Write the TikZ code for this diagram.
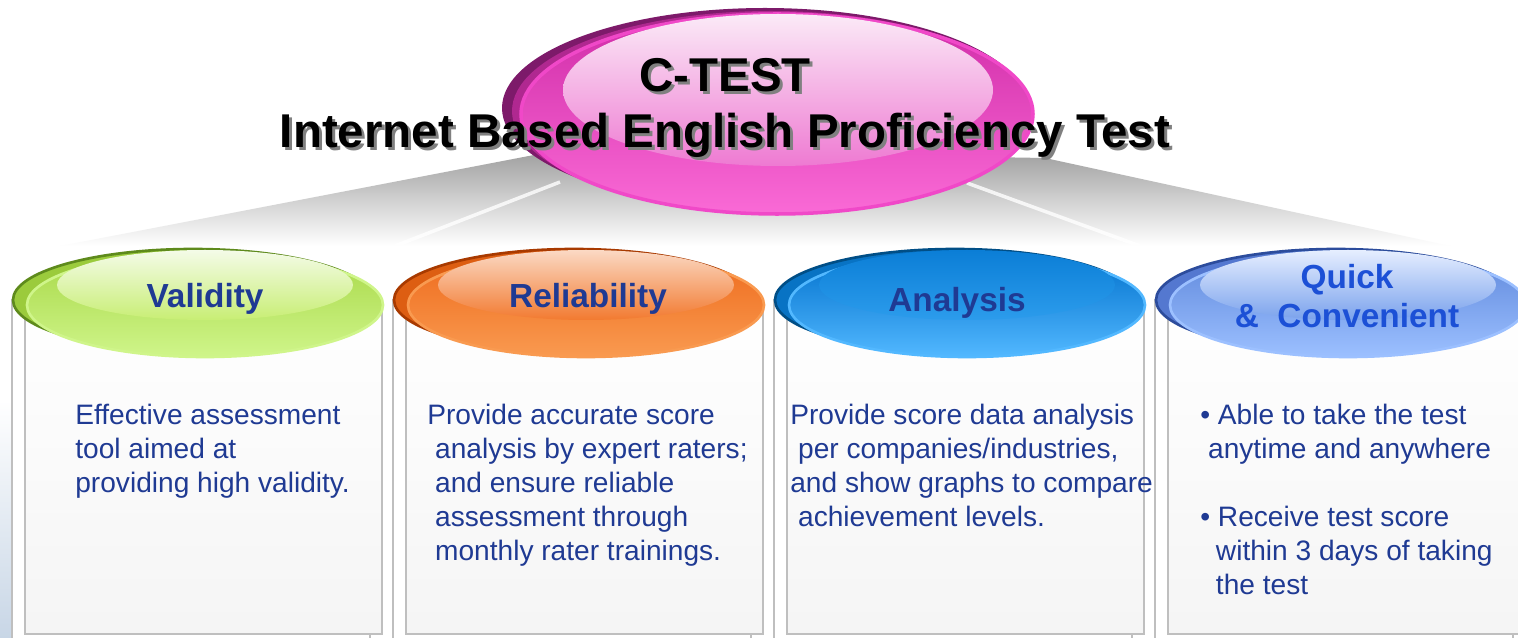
\documentclass[tikz,border=0pt]{standalone}
\usepackage{fontspec}
\setmainfont{Liberation Sans}
\usepackage{tikz}
\usetikzlibrary{calc}
\definecolor{txtblue}{RGB}{31,58,147}
\definecolor{qcblue}{RGB}{28,80,214}
\definecolor{leftblue}{RGB}{200,214,230}
\definecolor{pkEdge}{RGB}{125,26,106}
\definecolor{pkBack}{RGB}{176,40,144}
\definecolor{pkRim}{RGB}{240,72,200}
\definecolor{pkTop}{RGB}{208,44,168}
\definecolor{pkBot}{RGB}{250,106,214}
\definecolor{pkHiT}{RGB}{251,234,247}
\definecolor{pkHiB}{RGB}{238,122,210}
\definecolor{gnEdge}{RGB}{94,138,28}
\definecolor{gnBack}{RGB}{155,203,60}
\definecolor{gnTop}{RGB}{168,216,72}
\definecolor{gnBot}{RGB}{207,245,138}
\definecolor{gnHiT}{RGB}{244,251,232}
\definecolor{gnHiB}{RGB}{200,238,116}
\definecolor{orEdge}{RGB}{168,58,0}
\definecolor{orBack}{RGB}{221,94,18}
\definecolor{orTop}{RGB}{238,106,28}
\definecolor{orBot}{RGB}{249,154,80}
\definecolor{orHiT}{RGB}{251,217,196}
\definecolor{orHiB}{RGB}{242,122,48}
\definecolor{blEdge}{RGB}{0,78,134}
\definecolor{blBack}{RGB}{8,115,196}
\definecolor{blTop}{RGB}{0,112,204}
\definecolor{blBot}{RGB}{82,184,255}
\definecolor{blHiT}{RGB}{11,126,214}
\definecolor{blHiB}{RGB}{44,156,236}
\definecolor{pwEdge}{RGB}{44,76,156}
\definecolor{pwBack}{RGB}{84,120,208}
\definecolor{pwTop}{RGB}{95,136,220}
\definecolor{pwBot}{RGB}{156,192,255}
\definecolor{pwHiT}{RGB}{230,238,255}
\definecolor{pwHiB}{RGB}{122,162,236}

\begin{document}
\begin{tikzpicture}[x=0.02cm,y=-0.02cm,
		colrect/.style={draw=black!25,line width=1.6pt},
		bodytext/.style={anchor=north west,inner sep=0pt,align=left,text=txtblue,font=\fontsize{16}{19.35}\selectfont},
		headtext/.style={inner sep=0pt,text=txtblue,font=\bfseries\fontsize{19}{22.2}\selectfont},
		titletext/.style={anchor=north,inner sep=0pt,align=center,font=\bfseries\fontsize{27}{31.9}\selectfont}]
				\def\colw{381};
				\clip (0,0) rectangle (1518,638);
				\fill[white] (0,0) rectangle (1518,638);
				\shade[top color=white,bottom color=leftblue] (0,400) rectangle (14,638);
				\shade[top color=black!38,bottom color=white] (560,150) -- (1045,158) -- (1450,246) -- (60,246) -- cycle;
				\draw[white,line width=2pt,opacity=.8] (560,182) -- (395,246) (967,183) -- (1140,246);
				\foreach \i/\edgec/\backc/\topc/\botc/\hitc/\hibc in {0/gnEdge/gnBack/gnTop/gnBot/gnHiT/gnHiB,
						1/orEdge/orBack/orTop/orBot/orHiT/orHiB,
						2/blEdge/blBack/blTop/blBot/blHiT/blHiB,
						3/pwEdge/pwBack/pwTop/pwBot/pwHiT/pwHiB}{
					\pgfmathsetmacro\L{25+\colw*\i}
					\draw[colrect,fill=white] (\L-13,300) rectangle (\L+345,660);
					\draw[colrect,top color=white,bottom color=black!4] (\L,300) rectangle (\L+357,634);
					\draw[\edgec,line width=1.5pt,fill=\backc] (\L+168,300) ellipse [x radius=180,y radius=51];
					\draw[\botc,line width=1.5pt,top color=\topc,bottom color=\botc] (\L+180,305) ellipse [x radius=178,y radius=52];
					\shade[top color=\hitc,bottom color=\hibc] (\L+180,285) ellipse [x radius=148,y radius=35];
				}
				\fill[pkEdge] (765,108) ellipse [x radius=263,y radius=100];
				\fill[pkBack] (771,111) ellipse [x radius=259,y radius=100];
				\draw[pkRim,line width=2pt,top color=pkTop,bottom color=pkBot] (777,114) ellipse [x radius=256,y radius=100];
				\shade[top color=pkHiT,bottom color=pkHiB] (778,90) ellipse [x radius=215,y radius=76];
				\node[titletext,text=black!50] (titleshadow) at (728,61) {C-TEST\\Internet Based English Proficiency Test};
				\node[titletext] (title) at (725,58) {C-TEST\\Internet Based English Proficiency Test};
				\node[headtext,anchor=base] (validity) at (205,308) {Validity};
				\node[headtext,anchor=base] (reliability) at (588,308) {Reliability};
				\node[headtext,anchor=base] (analysis) at (957,312) {Analysis};
				\node[headtext,anchor=north,align=center,text=qcblue] (quick) at (1347,264) {Quick\\\&~~Convenient};
				\node[bodytext] (validitytxt) at (75,403.5) {Effective assessment\\tool aimed at\\providing high validity.};
				\node[bodytext] (reliabilitytxt) at (427,403.5) {Provide accurate score\\~analysis by expert raters;\\~and ensure reliable\\~assessment through\\~monthly rater trainings.};
				\node[bodytext] (analysistxt) at (790,403.5) {Provide score data analysis\\~per companies/industries,\\and show graphs to compare\\~achievement levels.};
				\node[bodytext] (quicktxt) at (1200,403.5) {• Able to take the test\\~anytime and anywhere\\[19.35pt]• Receive test score\\~~within 3 days of taking\\~~the test};
			\end{tikzpicture}
\end{document}
